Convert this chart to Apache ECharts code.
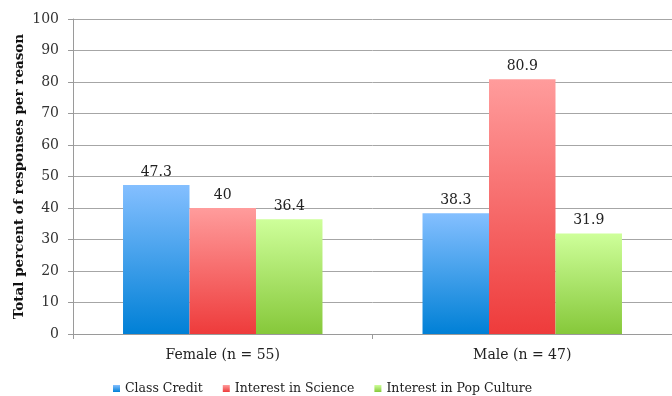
<!DOCTYPE html>
<html>
<head>
<meta charset="utf-8">
<script src="https://cdn.jsdelivr.net/npm/echarts@6/dist/echarts.min.js"></script>
<style>
  html, body { margin: 0; padding: 0; background: #fff; }
  #chart { width: 672px; height: 396px; }
</style>
</head>
<body>
<div id="chart"></div>
<script>
// Reasons for taking part, split by gender (percent of responses)
const categories = ['Female (n = 55)', 'Male (n = 47)'];
const classCredit = [47.3, 38.3];
const interestScience = [40, 80.9];
const interestPopCulture = [36.4, 31.9];
const yTicks = [0, 10, 20, 30, 40, 50, 60, 70, 80, 90, 100];

const FONT = '"DejaVu Serif", "Liberation Serif", serif';

function grad(top, bottom) {
  return new echarts.graphic.LinearGradient(0, 0, 0, 1, [
    { offset: 0, color: top },
    { offset: 1, color: bottom }
  ]);
}

const palette = {
  blue: grad('#84BFFF', '#0080D6'),
  red: grad('#FF9C9C', '#EE3B3B'),
  green: grad('#CEFF9A', '#86C83A')
};

function barSeries(name, data, color) {
  return {
    name: name,
    type: 'bar',
    data: data,
    barGap: 0,
    barCategoryGap: '33.4%',
    itemStyle: { color: color },
    label: {
      show: true,
      position: 'top',
      distance: 6,
      color: '#222',
      fontFamily: FONT,
      fontSize: 14
    }
  };
}

const chart = echarts.init(document.getElementById('chart'), null, { renderer: 'canvas' });
chart.setOption({
  animation: false,
  backgroundColor: '#fff',
  grid: { left: 73, right: 0, top: 19, bottom: 62, containLabel: false, outerBoundsMode: 'none' },
  legend: {
    top: 382,
    left: 113,
    padding: 0,
    itemWidth: 7,
    itemHeight: 7,
    itemGap: 20,
    icon: 'rect',
    textStyle: { fontFamily: FONT, fontSize: 12.5, color: '#222' },
    data: ['Class Credit', 'Interest in Science', 'Interest in Pop Culture']
  },
  xAxis: {
    type: 'category',
    data: categories,
    axisLine: { lineStyle: { color: '#9a9a9a', width: 1 } },
    axisTick: { show: true, length: 5, lineStyle: { color: '#9a9a9a' } },
    axisLabel: { fontFamily: FONT, fontSize: 14, color: '#222', margin: 14 }
  },
  yAxis: {
    type: 'value',
    min: yTicks[0],
    max: yTicks[yTicks.length - 1],
    interval: 10,
    name: 'Total percent of responses per reason',
    nameLocation: 'middle',
    nameGap: 47,
    nameMoveOverlap: false,
    nameTextStyle: { fontFamily: FONT, fontSize: 13.5, fontWeight: 'bold', color: '#111' },
    axisLine: { show: true, lineStyle: { color: '#9a9a9a' } },
    axisTick: { show: true, length: 5, lineStyle: { color: '#9a9a9a' } },
    axisLabel: { fontFamily: FONT, fontSize: 14, color: '#333', margin: 14 },
    splitLine: { lineStyle: { color: '#a6a6a6', width: 1 } }
  },
  series: [
    barSeries('Class Credit', classCredit, palette.blue),
    barSeries('Interest in Science', interestScience, palette.red),
    barSeries('Interest in Pop Culture', interestPopCulture, palette.green)
  ]
});
</script>
</body>
</html>
